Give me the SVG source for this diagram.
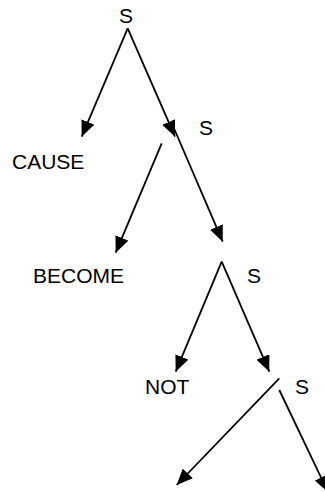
<svg xmlns="http://www.w3.org/2000/svg" width="325" height="492" viewBox="0 0 325 492">
<style>
text{font-family:"Liberation Sans",Arial,sans-serif;font-size:21px;fill:#000}
.e{stroke:#000;stroke-width:1.8;fill:none;marker-end:url(#ah)}
</style>
<defs>
<marker id="ah" markerUnits="userSpaceOnUse" viewBox="0 0 16 14" refX="16" refY="7" markerWidth="16" markerHeight="14" orient="auto">
<path d="M0,0 L16,7 L0,14 Z" fill="#000"/>
</marker>
</defs>
<rect width="325" height="492" fill="#fff"/>
<g id="connectors">
<line class="e" x1="127.7" y1="28.3" x2="81.7" y2="136.7"/>
<line class="e" x1="127.7" y1="28.3" x2="175" y2="136.7"/>
<line class="e" x1="161.7" y1="143.3" x2="115.7" y2="252.7"/>
<line class="e" x1="173" y1="126" x2="222.7" y2="241.7"/>
<line class="e" x1="221.7" y1="261.7" x2="175.7" y2="371.7"/>
<line class="e" x1="221.7" y1="261.7" x2="269.3" y2="371.7"/>
<line class="e" x1="279.3" y1="378.3" x2="176.7" y2="485"/>
<line class="e" x1="279.3" y1="390" x2="328" y2="492"/>
</g>
<g id="s1"><text x="126" y="23" text-anchor="middle">S</text></g>
<g id="cause"><text x="12" y="169">CAUSE</text></g>
<g id="s2"><text x="199" y="135">S</text></g>
<g id="become"><text x="33" y="283">BECOME</text></g>
<g id="s3"><text x="247" y="283">S</text></g>
<g id="not"><text x="145" y="394">NOT</text></g>
<g id="s4"><text x="295" y="394">S</text></g>
</svg>
